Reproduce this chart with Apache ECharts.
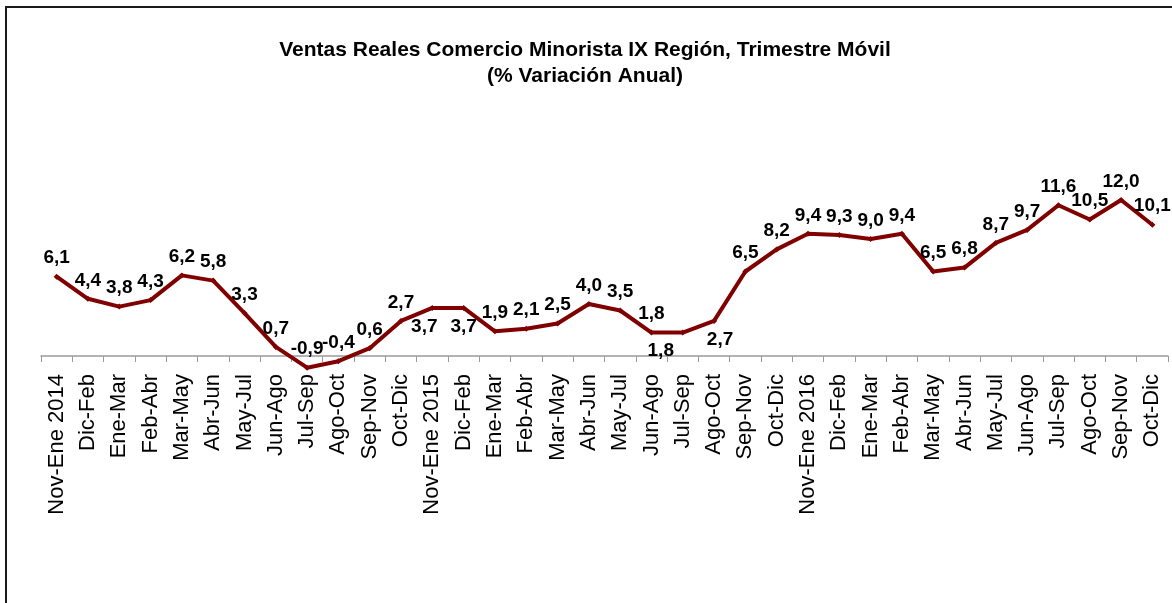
<!DOCTYPE html>
<html>
<head>
<meta charset="utf-8">
<script src="https://cdn.jsdelivr.net/npm/echarts@6/dist/echarts.min.js"></script>
<style>
  html, body { margin: 0; padding: 0; background: #fff; }
  #chart { width: 1172px; height: 603px; }
</style>
</head>
<body>
<div id="chart"></div>
<script>
// Rolling quarters, Nov 2014 - Dec 2016
const categories = [
  "Nov-Ene 2014", "Dic-Feb", "Ene-Mar", "Feb-Abr", "Mar-May", "Abr-Jun",
  "May-Jul", "Jun-Ago", "Jul-Sep", "Ago-Oct", "Sep-Nov", "Oct-Dic",
  "Nov-Ene 2015", "Dic-Feb", "Ene-Mar", "Feb-Abr", "Mar-May", "Abr-Jun",
  "May-Jul", "Jun-Ago", "Jul-Sep", "Ago-Oct", "Sep-Nov", "Oct-Dic",
  "Nov-Ene 2016", "Dic-Feb", "Ene-Mar", "Feb-Abr", "Mar-May", "Abr-Jun",
  "May-Jul", "Jun-Ago", "Jul-Sep", "Ago-Oct", "Sep-Nov", "Oct-Dic"
];

const values = [
  6.1, 4.4, 3.8, 4.3, 6.2, 5.8,
  3.3, 0.7, -0.9, -0.4, 0.6, 2.7,
  3.7, 3.7, 1.9, 2.1, 2.5, 4.0,
  3.5, 1.8, 1.8, 2.7, 6.5, 8.2,
  9.4, 9.3, 9.0, 9.4, 6.5, 6.8,
  8.7, 9.7, 11.6, 10.5, 12.0, 10.1
];

// points whose value label sits under the line
const labelsBelow = [12, 13, 20, 21];

const chart = echarts.init(document.getElementById("chart"));

const option = {
  backgroundColor: "#fff",
  animation: false,
  title: {
    text: "Ventas Reales Comercio Minorista IX Región, Trimestre Móvil\n(% Variación Anual)",
    left: 580,
    top: 32,
    textAlign: "center",
    textStyle: {
      fontFamily: "Liberation Sans, Arial",
      fontSize: 21,
      fontWeight: "bold",
      color: "#000",
      lineHeight: 26
    }
  },
  graphic: [
    {
      type: "rect",
      shape: { x: 6, y: 7, width: 1300, height: 700 },
      style: { fill: "none", stroke: "#1a1a1a", lineWidth: 2 },
      silent: true
    }
  ],
  grid: {
    left: 41,
    right: 4,
    top: 174,
    height: 208
  },
  xAxis: {
    type: "category",
    data: categories,
    boundaryGap: true,
    axisLine: { onZero: true, lineStyle: { color: "#9a9a9a", width: 1.5 } },
    axisTick: { show: true, length: 6, lineStyle: { color: "#9a9a9a" } },
    axisLabel: {
      interval: 0,
      rotate: 90,
      margin: -8,
      fontFamily: "Liberation Sans, Arial",
      fontSize: 22,
      color: "#000"
    }
  },
  yAxis: {
    type: "value",
    min: -2,
    max: 14,
    show: false,
    splitLine: { show: false }
  },
  series: [
    {
      type: "line",
      data: values.map((v, i) => {
        const item = { value: v };
        if (labelsBelow.includes(i)) {
          item.label = { position: "bottom", distance: 6 };
          if (i === 12) item.label.offset = [-8, 0];
          if (i === 20) item.label.offset = [-22, 0];
          if (i === 21) item.label.offset = [6, 0];
        }
        return item;
      }),
      symbol: "diamond",
      symbolSize: 6,
      lineStyle: { color: "#800000", width: 4 },
      itemStyle: { color: "#800000" },
      label: {
        show: true,
        position: "top",
        distance: 6,
        fontFamily: "Liberation Sans, Arial",
        fontSize: 19,
        fontWeight: "bold",
        color: "#000",
        formatter: (p) => p.value.toFixed(1).replace(".", ",")
      }
    }
  ]
};

chart.setOption(option);
</script>
</body>
</html>
